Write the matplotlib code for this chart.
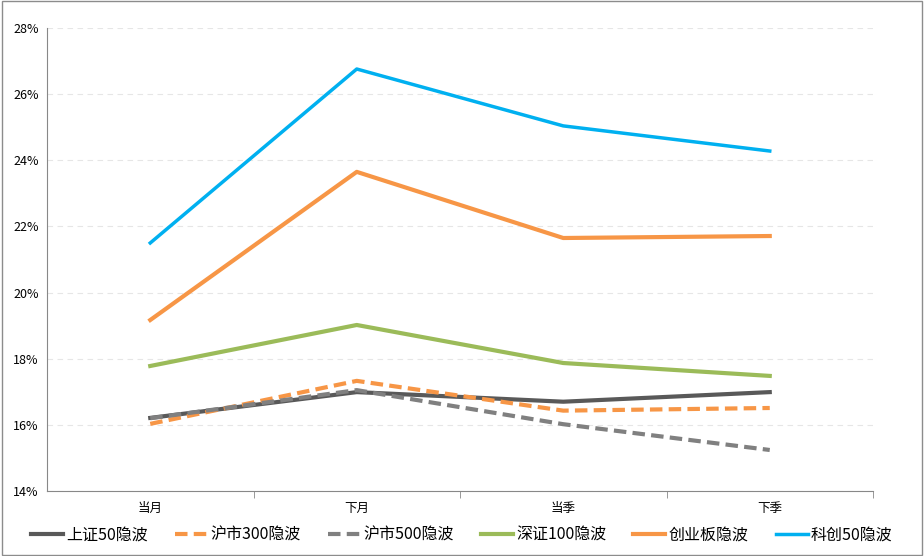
import matplotlib.pyplot as plt
from matplotlib.ticker import FuncFormatter

plt.rcParams['font.family'] = ['Noto Sans CJK SC', 'DejaVu Sans']

categories = ['当月', '下月', '当季', '下季']
sz50 = [16.21, 16.99, 16.70, 16.99]
hs300 = [16.03, 17.33, 16.43, 16.51]
hs500 = [16.20, 17.05, 16.02, 15.24]
szse100 = [17.78, 19.02, 17.87, 17.48]
gem = [19.17, 23.65, 21.65, 21.71]
star50 = [21.50, 26.76, 25.04, 24.28]

fig = plt.figure(figsize=(9.24, 5.56), dpi=100)
ax = fig.add_axes([47/924, 1-491/556, 826/924, 463/556])

x = range(len(categories))
ax.plot(x, sz50, color='#595959', lw=3, label='上证50隐波')
ax.plot(x, hs300, color='#F79646', lw=3, ls=(0, (3, 1.5)), label='沪市300隐波')
ax.plot(x, hs500, color='#808080', lw=3, ls=(0, (3, 1.5)), label='沪市500隐波')
ax.plot(x, szse100, color='#9BBB59', lw=3, label='深证100隐波')
ax.plot(x, gem, color='#F79646', lw=3, label='创业板隐波')
ax.plot(x, star50, color='#00B0F0', lw=2.5, label='科创50隐波')

ax.set_xlim(-0.5, 3.5)
ax.set_ylim(14, 28)
ax.set_yticks(range(14, 29, 2))
ax.yaxis.set_major_formatter(FuncFormatter(lambda v, p: f'{v:.0f}%'))
ax.set_xticks(list(x))
ax.set_xticklabels(categories)
ax.set_xticks([0.5, 1.5, 2.5, 3.5], minor=True)
ax.tick_params(axis='x', which='major', length=0, pad=8, labelsize=9)
ax.tick_params(axis='x', which='minor', length=5, color='#888888')
ax.tick_params(axis='y', length=0, pad=6, labelsize=9)
ax.grid(axis='y', color='#E6E6E6', ls=(0, (5, 4)), lw=0.8)
for s in ['top', 'right']:
    ax.spines[s].set_visible(False)
for s in ['left', 'bottom']:
    ax.spines[s].set_color('#888888')

fig.legend(loc='center', bbox_to_anchor=(0.5, 1-535/556), ncol=6, frameon=False,
           fontsize=11.5, handlelength=2.0, columnspacing=1.7, handletextpad=0.2)

border = plt.Rectangle((0.002, 0.002), 0.996, 0.996, transform=fig.transFigure,
                       fill=False, ec='#8C8C8C', lw=1)
fig.patches.append(border)

fig.savefig('out.png', dpi=100)
